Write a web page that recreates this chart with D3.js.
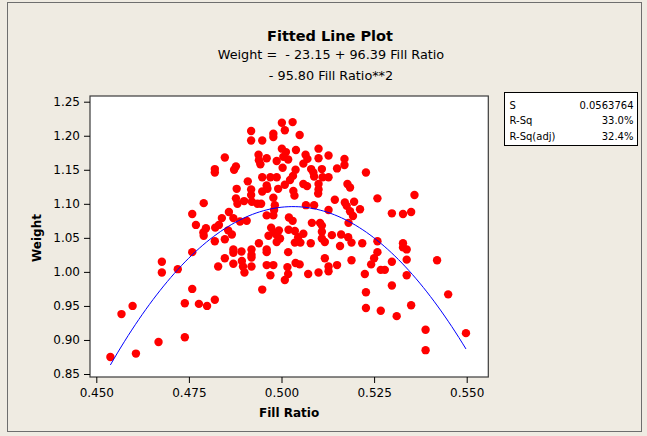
<!doctype html>
<html>
<head>
  <meta charset="UTF-8">
  <title>Fitted Line Plot</title>
  <script src="https://cdn.jsdelivr.net/npm/d3@7/dist/d3.min.js"></script>
  <style>
    body { margin: 0; background: #efebe2; }
    svg text { font-family: "DejaVu Sans", Verdana, sans-serif; fill: #000; }
  </style>
</head>
<body>
<div id="chart"></div>
<script>
// fill ratio / weight pairs
var fillRatio = [
  0.4538, 0.4568, 0.4598, 0.4607, 0.4668, 0.4677, 0.4677, 0.4720, 0.4739, 0.4739,
  0.4759, 0.4759, 0.4777, 0.4799, 0.4820, 0.4829, 0.4847, 0.4820, 0.4790, 0.4847,
  0.4847, 0.4820, 0.4820, 0.4790, 0.4759, 0.4769, 0.4796, 0.4789, 0.4821, 0.4839,
  0.4831, 0.4858, 0.4870, 0.4888, 0.4906, 0.4856, 0.4866, 0.4870, 0.4870, 0.4892,
  0.4919, 0.4919, 0.4919, 0.4870, 0.4893, 0.4896, 0.4919, 0.4900, 0.4939, 0.4960,
  0.4960, 0.4960, 0.4978, 0.4970, 0.4948, 0.4987, 0.4996, 0.4987, 0.4965, 0.5018,
  0.5016, 0.5018, 0.5009, 0.5038, 0.5049, 0.5072, 0.5100, 0.5127, 0.5127, 0.5150,
  0.5117, 0.5189, 0.5225, 0.5228, 0.5228, 0.5036, 0.5051, 0.5079, 0.5109, 0.5117,
  0.5158, 0.5189, 0.5218, 0.5136, 0.5161, 0.5180, 0.5036, 0.5059, 0.5045,
  0.5259, 0.5259, 0.5250, 0.5242, 0.5268, 0.5279, 0.5298, 0.5328, 0.5328, 0.5338,
  0.5338, 0.5338, 0.5298, 0.5268, 0.5311, 0.5350, 0.5420, 0.5450, 0.5389, 0.5389,
  0.5498, 0.5228, 0.5259, 0.5359, 0.5298, 0.5328, 0.5350,
  0.5001, 0.5030, 0.5009, 0.4918, 0.4918, 0.4948, 0.4978, 0.4978, 0.5049, 0.5001,
  0.5012, 0.5039, 0.5100, 0.5127, 0.5065, 0.5070, 0.5059, 0.5100, 0.5170, 0.5170,
  0.5150, 0.5005, 0.5018, 0.4938, 0.4939, 0.4943, 0.4960, 0.4987, 0.5003, 0.5038,
  0.5080, 0.5086, 0.5109, 0.4877, 0.4872, 0.4948, 0.4970, 0.4987, 0.5031, 0.5023,
  0.5009, 0.5088, 0.5111, 0.5127, 0.5059, 0.5069, 0.5100, 0.5100, 0.5178, 0.5185,
  0.4909, 0.4879, 0.4918, 0.4918, 0.4960, 0.4962, 0.4948, 0.4991, 0.5032, 0.5035,
  0.4978, 0.5099, 0.4877, 0.4881, 0.4899, 0.4920, 0.4935, 0.4945, 0.4982, 0.5066,
  0.5088, 0.5127, 0.5144, 0.5171, 0.5176, 0.5196, 0.5185, 0.5212, 0.4980, 0.4978,
  0.4960, 0.4972, 0.4978, 0.4993, 0.5020, 0.5030, 0.5019, 0.5082, 0.5104, 0.5109,
  0.5109, 0.5181, 0.5193
];
var weight = [
  0.875, 0.938, 0.950, 0.880, 0.897, 1.015, 0.999, 1.004, 0.954, 0.904,
  0.975, 1.029, 0.953, 0.950, 0.959, 1.008, 1.020, 1.045, 1.053, 1.048,
  1.168, 1.151, 1.146, 1.101, 1.085, 1.069, 1.064, 1.058, 1.065, 1.079,
  1.069, 1.088, 1.079, 1.074, 1.075, 1.061, 1.055, 1.033, 1.028, 1.030,
  1.033, 1.025, 1.021, 1.012, 1.016, 1.008, 1.008, 0.999, 1.042, 1.033,
  1.029, 1.010, 1.010, 0.995, 0.974, 1.044, 1.049, 1.054, 1.053, 1.029,
  1.007, 0.997, 0.988, 1.013, 1.011, 0.997, 0.999, 1.008, 1.001, 1.010,
  1.020, 1.017, 0.997, 0.970, 0.947, 1.043, 1.043, 1.042, 1.049, 1.044,
  1.038, 1.043, 1.042, 1.054, 1.055, 1.051, 1.060, 1.056, 1.051,
  1.045, 1.029, 1.020, 1.011, 1.003, 1.003, 1.015, 1.042, 1.036, 1.033,
  1.018, 0.995, 0.980, 0.943, 0.935, 0.951, 1.017, 0.967, 0.915, 0.885,
  0.910, 1.146, 1.108, 1.113, 1.086, 1.085, 1.088,
  1.219, 1.220, 1.208, 1.207, 1.193, 1.193, 1.203, 1.198, 1.201, 1.181,
  1.176, 1.179, 1.181, 1.171, 1.172, 1.166, 1.159, 1.167, 1.166, 1.157,
  1.152, 1.169, 1.165, 1.172, 1.164, 1.158, 1.167, 1.163, 1.153, 1.150,
  1.151, 1.146, 1.151, 1.155, 1.150, 1.139, 1.139, 1.139, 1.141, 1.135,
  1.128, 1.140, 1.139, 1.139, 1.129, 1.126, 1.129, 1.121, 1.129, 1.124,
  1.133, 1.122, 1.121, 1.113, 1.127, 1.122, 1.118, 1.122, 1.119, 1.112,
  1.109, 1.115, 1.108, 1.100, 1.104, 1.103, 1.100, 1.100, 1.098, 1.098,
  1.098, 1.091, 1.106, 1.102, 1.097, 1.103, 1.089, 1.092, 1.091, 1.083,
  1.083, 1.065, 1.058, 1.061, 1.080, 1.075, 1.062, 1.072, 1.072, 1.068,
  1.059, 1.072, 1.082
];

// regression: Weight = b0 + b1*x + b2*x^2
var coef = [-23.15, 96.39, -95.80];
var xTicks = [0.450, 0.475, 0.500, 0.525, 0.550];
var yTicks = [0.85, 0.90, 0.95, 1.00, 1.05, 1.10, 1.15, 1.20, 1.25];
var statLabels = ["S", "R-Sq", "R-Sq(adj)"];
var statValues = ["0.0563764", "33.0%", "32.4%"];

var W = 647, H = 436;
var plot = {left: 90, right: 488.3, top: 96, bottom: 377};

var svg = d3.select("#chart").append("svg")
  .attr("width", W)
  .attr("height", H);

svg.append("rect")
  .attr("width", W).attr("height", H)
  .attr("fill", "#efebe2");

// outer graph frame
svg.append("rect")
  .attr("x", 7.5).attr("y", 2.5)
  .attr("width", 634).attr("height", 429)
  .attr("fill", "none")
  .attr("stroke", "#6e6e6e");

var x = d3.scaleLinear().domain([0.45, 0.55]).range([96.3, 466.7]);
var y = d3.scaleLinear().domain([0.85, 1.25]).range([374, 101.7]);

svg.append("rect")
  .attr("x", plot.left).attr("y", plot.top)
  .attr("width", plot.right - plot.left)
  .attr("height", plot.bottom - plot.top)
  .attr("fill", "#fff")
  .attr("stroke", "#3a3a3a")
  .attr("stroke-width", 1.2);

var gy = svg.append("g")
  .attr("transform", "translate(" + plot.left + ",0)")
  .call(d3.axisLeft(y).tickValues(yTicks).tickFormat(d3.format(".2f")).tickSize(6).tickPadding(4));
var gx = svg.append("g")
  .attr("transform", "translate(0," + plot.bottom + ")")
  .call(d3.axisBottom(x).tickValues(xTicks).tickFormat(d3.format(".3f")).tickSize(6).tickPadding(5));
[gx, gy].forEach(function(g) {
  g.select(".domain").remove();
  g.selectAll("line").attr("stroke", "#000");
  g.selectAll("text").style("font-size", "12px").attr("fill", "#000");
});

// points
var pts = fillRatio.map(function(d, i) { return [d, weight[i]]; });
svg.append("g").selectAll("circle")
  .data(pts)
  .enter().append("circle")
  .attr("cx", function(d) { return x(d[0]); })
  .attr("cy", function(d) { return y(d[1]); })
  .attr("r", 4.2)
  .attr("fill", "#ff0000");

// fitted curve
var ext = d3.extent(fillRatio);
var curve = d3.range(0, 101).map(function(i) {
  var v = ext[0] + (ext[1] - ext[0]) * i / 100;
  return [v, coef[0] + coef[1] * v + coef[2] * v * v];
});
svg.append("path")
  .attr("d", d3.line().x(function(d) { return x(d[0]); }).y(function(d) { return y(d[1]); })(curve))
  .attr("fill", "none")
  .attr("stroke", "#0000ff")
  .attr("stroke-width", 1);

// titles
svg.append("text")
  .attr("x", 330).attr("y", 41)
  .attr("text-anchor", "middle")
  .style("font-size", "14.5px").style("font-weight", "bold")
  .text("Fitted Line Plot");
svg.append("text")
  .attr("x", 331).attr("y", 59)
  .attr("text-anchor", "middle")
  .style("font-size", "12.8px")
  .style("white-space", "pre")
  .text("Weight =  - 23.15 + 96.39 Fill Ratio");
svg.append("text")
  .attr("x", 331).attr("y", 80)
  .attr("text-anchor", "middle")
  .style("font-size", "12.8px")
  .text("- 95.80 Fill Ratio**2");

svg.append("text")
  .attr("x", (plot.left + plot.right) / 2).attr("y", 417)
  .attr("text-anchor", "middle")
  .style("font-size", "12px").style("font-weight", "bold")
  .text("Fill Ratio");
svg.append("text")
  .attr("transform", "translate(41,238) rotate(-90)")
  .attr("text-anchor", "middle")
  .style("font-size", "12px").style("font-weight", "bold")
  .text("Weight");

// stats box
var box = svg.append("g").attr("transform", "translate(504.5,92.5)");
box.append("rect")
  .attr("width", 133).attr("height", 53)
  .attr("fill", "#fff")
  .attr("stroke", "#000");
statLabels.forEach(function(s, i) {
  box.append("text").attr("x", 5).attr("y", 16 + i * 15.5)
    .style("font-size", "10px").text(s);
  box.append("text").attr("x", 129).attr("y", 16 + i * 15.5)
    .attr("text-anchor", "end")
    .style("font-size", "10px").text(statValues[i]);
});
</script>
</body>
</html>
